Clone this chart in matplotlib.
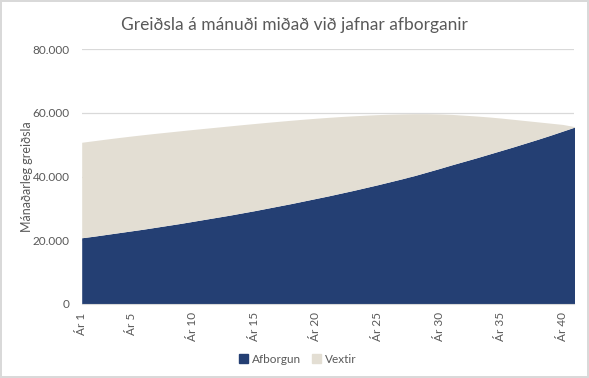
import matplotlib
matplotlib.use("Agg")
import matplotlib.pyplot as plt
from matplotlib.patches import Patch
from matplotlib.ticker import FuncFormatter

# ár lánstímans, 41 = lok síðasta árs
ar = [1, 2, 3, 4, 5, 6, 7, 8, 9, 10,
      11, 12, 13, 14, 15, 16, 17, 18, 19, 20,
      21, 22, 23, 24, 25, 26, 27, 28, 29, 30,
      31, 32, 33, 34, 35, 36, 37, 38, 39, 40, 41]

afborgun = [20800, 21300, 21850, 22400, 22950, 23500, 24100, 24700, 25300, 25950,
            26600, 27250, 27900, 28600, 29300, 30050, 30800, 31550, 32350, 33150,
            33950, 34800, 35650, 36550, 37450, 38400, 39350, 40350, 41450, 42550,
            43700, 44800, 45900, 47050, 48200, 49350, 50550, 51750, 53000, 54300, 55600]

vextir = [30000, 30000, 29950, 29880, 29790, 29680, 29500, 29300, 29100, 28850,
          28580, 28310, 28040, 27720, 27380, 26990, 26580, 26170, 25690, 25190,
          24670, 24080, 23450, 22750, 22030, 21220, 20370, 19430, 18330, 17150,
          15850, 14500, 13150, 11700, 10200, 8650, 7050, 5450, 3800, 2100, 100]

tick_ar = [1, 5, 10, 15, 20, 25, 30, 35, 40]
tick_labels = ["Ár %d" % a for a in tick_ar]

blue = "#243F73"
beige = "#E3DED3"
grey = "#595959"
grid = "#D9D9D9"

plt.rcParams['font.family'] = ['Lato', 'DejaVu Sans']

fig = plt.figure(figsize=(5.89, 3.78), dpi=100)
fig.patch.set_edgecolor(grid)
fig.patch.set_linewidth(1.5)
ax = fig.add_axes([0.1387, 0.1958, 0.8358, 0.6738])

total = [a + v for a, v in zip(afborgun, vextir)]
ax.fill_between(ar, 0, afborgun, color=blue, linewidth=0, zorder=2)
ax.fill_between(ar, afborgun, total, color=beige, linewidth=0, zorder=2)

ax.set_xlim(1, 40.92)
ax.set_ylim(0, 80000)
ax.set_yticks([0, 20000, 40000, 60000, 80000])
ax.yaxis.set_major_formatter(FuncFormatter(lambda v, p: "{:,.0f}".format(v).replace(",", ".")))
ax.set_xticks(tick_ar)
ax.set_xticklabels(tick_labels, rotation=90)
ax.tick_params(axis='both', length=0, colors=grey, labelsize=8.5)
ax.tick_params(axis='y', pad=8.5)
ax.tick_params(axis='x', pad=6)
ax.grid(axis='y', color=grid, linewidth=0.9, zorder=0)
ax.set_axisbelow(True)
for s in ['top', 'right', 'left']:
    ax.spines[s].set_visible(False)
ax.spines['bottom'].set_color(grid)
ax.spines['bottom'].set_zorder(3)

ax.set_ylabel("Mánaðarleg greiðsla", color=grey, fontsize=9)
ax.yaxis.set_label_coords(-0.098, 0.5)
fig.text(0.5, 0.935, "Greiðsla á mánuði miðað við jafnar afborganir",
         ha='center', va='center', color=grey, fontsize=12.5)

handles = [Patch(color=blue, label="Afborgun"), Patch(color=beige, label="Vextir")]
fig.legend(handles=handles, loc='center', bbox_to_anchor=(0.505, 0.05), ncol=2,
           frameon=False, fontsize=8.5, labelcolor=grey, handlelength=0.8,
           handleheight=0.8, handletextpad=0.3, columnspacing=0.9)

fig.savefig("out.png", dpi=100)
